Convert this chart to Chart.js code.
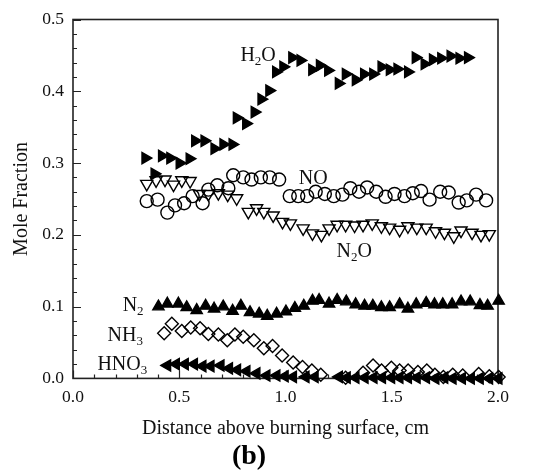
<!DOCTYPE html>
<html>
<head>
<meta charset="utf-8">
<script src="https://cdn.jsdelivr.net/npm/chart.js@4"></script>
<style>
  html, body { margin: 0; padding: 0; background: #fff; }
</style>
</head>
<body>
<canvas id="chart" width="539" height="474"></canvas>
<script>
// species profiles, distance (cm) vs mole fraction
const h2oX = [0.340, 0.383, 0.418, 0.457, 0.501, 0.548, 0.574, 0.618, 0.665, 0.707, 0.750, 0.770, 0.814, 0.854, 0.886, 0.923, 0.955, 0.989, 1.031, 1.070, 1.125, 1.161, 1.200, 1.250, 1.283, 1.330, 1.369, 1.412, 1.451, 1.490, 1.526, 1.576, 1.612, 1.654, 1.693, 1.732, 1.776, 1.818, 1.858];
const h2oY = [0.307, 0.285, 0.310, 0.307, 0.300, 0.306, 0.331, 0.331, 0.320, 0.326, 0.326, 0.363, 0.355, 0.371, 0.389, 0.401, 0.427, 0.434, 0.447, 0.443, 0.430, 0.436, 0.429, 0.411, 0.424, 0.416, 0.424, 0.424, 0.434, 0.430, 0.431, 0.427, 0.447, 0.438, 0.444, 0.446, 0.449, 0.446, 0.447];

const noX = [0.347, 0.398, 0.444, 0.480, 0.523, 0.563, 0.610, 0.637, 0.679, 0.731, 0.754, 0.801, 0.840, 0.884, 0.926, 0.970, 1.020, 1.060, 1.102, 1.142, 1.185, 1.227, 1.268, 1.305, 1.346, 1.384, 1.427, 1.471, 1.513, 1.560, 1.599, 1.638, 1.678, 1.728, 1.768, 1.815, 1.853, 1.897, 1.944];
const noY = [0.247, 0.249, 0.231, 0.241, 0.244, 0.254, 0.244, 0.263, 0.269, 0.265, 0.283, 0.280, 0.277, 0.280, 0.280, 0.277, 0.254, 0.254, 0.254, 0.260, 0.257, 0.254, 0.256, 0.265, 0.260, 0.266, 0.260, 0.253, 0.257, 0.254, 0.258, 0.261, 0.249, 0.260, 0.259, 0.245, 0.248, 0.256, 0.248];

const n2oX = [0.347, 0.391, 0.433, 0.473, 0.512, 0.551, 0.595, 0.637, 0.684, 0.728, 0.770, 0.825, 0.864, 0.898, 0.942, 0.986, 1.023, 1.083, 1.127, 1.169, 1.205, 1.243, 1.283, 1.325, 1.365, 1.408, 1.451, 1.490, 1.537, 1.576, 1.618, 1.662, 1.706, 1.748, 1.792, 1.826, 1.878, 1.920, 1.959];
const n2oY = [0.271, 0.276, 0.277, 0.270, 0.276, 0.275, 0.257, 0.257, 0.258, 0.256, 0.251, 0.232, 0.237, 0.232, 0.227, 0.218, 0.216, 0.209, 0.202, 0.200, 0.209, 0.214, 0.214, 0.213, 0.214, 0.216, 0.212, 0.210, 0.207, 0.212, 0.210, 0.210, 0.205, 0.203, 0.198, 0.206, 0.203, 0.200, 0.201];

const n2X = [0.402, 0.444, 0.496, 0.535, 0.582, 0.624, 0.664, 0.707, 0.751, 0.790, 0.833, 0.876, 0.914, 0.958, 1.002, 1.044, 1.086, 1.127, 1.158, 1.205, 1.243, 1.286, 1.330, 1.372, 1.411, 1.451, 1.490, 1.537, 1.576, 1.615, 1.662, 1.701, 1.740, 1.784, 1.826, 1.869, 1.915, 1.951, 2.003];
const n2Y = [0.100, 0.104, 0.104, 0.099, 0.095, 0.101, 0.097, 0.100, 0.094, 0.101, 0.092, 0.090, 0.087, 0.090, 0.093, 0.098, 0.101, 0.108, 0.109, 0.104, 0.109, 0.107, 0.103, 0.101, 0.101, 0.099, 0.099, 0.103, 0.097, 0.103, 0.105, 0.103, 0.103, 0.103, 0.107, 0.107, 0.102, 0.101, 0.108];

const nh3X = [0.429, 0.465, 0.512, 0.554, 0.598, 0.637, 0.684, 0.726, 0.762, 0.801, 0.851, 0.898, 0.939, 0.984, 1.036, 1.080, 1.124, 1.166, 1.283, 1.365, 1.412, 1.452, 1.498, 1.537, 1.577, 1.623, 1.665, 1.703, 1.743, 1.787, 1.834, 1.909, 1.959, 2.003, 2.045];
const nh3Y = [0.063, 0.076, 0.066, 0.071, 0.070, 0.062, 0.061, 0.053, 0.061, 0.058, 0.053, 0.042, 0.045, 0.032, 0.022, 0.016, 0.011, 0.005, 0.001, 0.008, 0.018, 0.011, 0.015, 0.011, 0.011, 0.009, 0.011, 0.005, 0.002, 0.005, 0.004, 0.006, 0.003, 0.002, 0.000];

const hno3X = [0.444, 0.485, 0.527, 0.570, 0.610, 0.648, 0.695, 0.735, 0.773, 0.817, 0.864, 0.911, 0.958, 0.997, 1.036, 1.095, 1.138, 1.252, 1.289, 1.330, 1.373, 1.415, 1.455, 1.498, 1.537, 1.577, 1.618, 1.662, 1.706, 1.748, 1.787, 1.831, 1.873, 1.915, 1.959, 2.003];
const hno3Y = [0.018, 0.020, 0.020, 0.020, 0.017, 0.017, 0.018, 0.014, 0.012, 0.010, 0.007, 0.004, 0.004, 0.003, 0.002, 0.002, 0.002, 0.002, 0.001, 0.001, 0.001, 0.001, 0.001, 0.001, 0.001, 0.001, 0.001, 0.001, 0.000, 0.001, 0.000, 0.000, 0.000, 0.000, 0.000, 0.000];

const xTicks = [0, 0.5, 1.0, 1.5, 2.0];
const yTicks = [0, 0.1, 0.2, 0.3, 0.4, 0.5];

// in-plot species labels: [text, subscript?]
const speciesLabels = [
  { parts: [['H', false], ['2', true], ['O', false]], x: 0.871, y: 0.452 },
  { parts: [['NO', false]], x: 1.130, y: 0.281 },
  { parts: [['N', false], ['2', true], ['O', false]], x: 1.323, y: 0.179 },
  { parts: [['N', false], ['2', true]], x: 0.283, y: 0.103 },
  { parts: [['NH', false], ['3', true]], x: 0.246, y: 0.062 },
  { parts: [['HNO', false], ['3', true]], x: 0.232, y: 0.021 },
];

const SERIF = '"Liberation Serif", "Times New Roman", serif';
const INK = '#111';

function pts(xs, ys) {
  return xs.map((x, i) => ({ x: x, y: ys[i] }));
}

function series(label, xs, ys, style, rotation, filled, r) {
  return {
    label: label,
    data: pts(xs, ys),
    showLine: false,
    pointStyle: style,
    pointRotation: rotation,
    pointRadius: r,
    pointHoverRadius: r,
    pointBorderWidth: 1.4,
    pointBorderColor: '#000',
    pointBackgroundColor: filled ? '#000' : 'rgba(0,0,0,0)',
    clip: false,
  };
}

const frame = {
  id: 'frame',
  beforeDatasetsDraw(chart) {
    const { ctx, chartArea: a, scales } = chart;
    ctx.save();
    ctx.strokeStyle = '#222';
    ctx.lineWidth = 1.6;
    ctx.strokeRect(a.left, a.top, a.right - a.left, a.bottom - a.top);
    ctx.lineWidth = 1.2;
    ctx.beginPath();
    for (let i = 0; i <= 25; i++) {
      const py = Math.round(scales.y.getPixelForValue(i * 0.02)) + 0.5;
      const len = i % 5 === 0 ? 8 : 4;
      ctx.moveTo(a.left, py);
      ctx.lineTo(a.left + len, py);
    }
    for (let i = 0; i <= 20; i++) {
      const px = Math.round(scales.x.getPixelForValue(i * 0.1)) + 0.5;
      const len = i % 5 === 0 ? 8 : 4;
      ctx.moveTo(px, a.bottom);
      ctx.lineTo(px, a.bottom - len);
    }
    ctx.stroke();
    ctx.restore();
  },
  afterDraw(chart) {
    const { ctx, scales } = chart;
    ctx.save();
    ctx.fillStyle = INK;
    ctx.textBaseline = 'alphabetic';
    speciesLabels.forEach(lab => {
      let w = 0;
      lab.parts.forEach(p => {
        ctx.font = (p[1] ? 13 : 20) + 'px ' + SERIF;
        w += ctx.measureText(p[0]).width;
      });
      let px = scales.x.getPixelForValue(lab.x) - w / 2;
      const base = scales.y.getPixelForValue(lab.y) + 7;
      lab.parts.forEach(p => {
        ctx.font = (p[1] ? 13 : 20) + 'px ' + SERIF;
        ctx.fillText(p[0], px, p[1] ? base + 4 : base);
        px += ctx.measureText(p[0]).width;
      });
    });
    ctx.restore();
  }
};

new Chart(document.getElementById('chart'), {
  type: 'scatter',
  data: {
    datasets: [
      series('H2O', h2oX, h2oY, 'triangle', 90, true, 6.5),
      series('NO', noX, noY, 'circle', 0, false, 6.5),
      series('N2O', n2oX, n2oY, 'triangle', 180, false, 7),
      series('N2', n2X, n2Y, 'triangle', 0, true, 6.5),
      series('NH3', nh3X, nh3Y, 'rectRot', 0, false, 6.5),
      series('HNO3', hno3X, hno3Y, 'triangle', 270, true, 6.5),
    ]
  },
  options: {
    responsive: false,
    animation: false,
    layout: { padding: { left: 0, right: 41, top: 15, bottom: 0 } },
    plugins: {
      legend: { display: false },
      tooltip: { enabled: false },
      title: {
        display: true,
        position: 'bottom',
        text: '(b)',
        color: '#000',
        font: { family: SERIF, size: 28, weight: 'bold' },
        padding: { top: 0, bottom: 0 }
      }
    },
    scales: {
      x: {
        type: 'linear',
        min: 0,
        max: 2,
        afterFit: s => { s.height = 62; },
        afterBuildTicks: s => { s.ticks = xTicks.map(v => ({ value: v })); },
        grid: { display: false, drawTicks: false },
        border: { display: false },
        ticks: {
          color: INK,
          padding: 9,
          font: { family: SERIF, size: 17.5 },
          callback: v => v.toFixed(1)
        },
        title: {
          display: true,
          text: 'Distance above burning surface, cm',
          color: INK,
          font: { family: SERIF, size: 20 },
          padding: { top: 0, bottom: 0 }
        }
      },
      y: {
        type: 'linear',
        min: 0,
        max: 0.5,
        afterFit: s => { s.width = 73; },
        afterBuildTicks: s => { s.ticks = yTicks.map(v => ({ value: v })); },
        grid: { display: false, drawTicks: false },
        border: { display: false },
        ticks: {
          color: INK,
          padding: 9,
          font: { family: SERIF, size: 17.5 },
          callback: v => v.toFixed(1)
        },
        title: {
          display: true,
          text: 'Mole Fraction',
          color: INK,
          font: { family: SERIF, size: 20 },
          padding: { top: 10, bottom: 0 }
        }
      }
    }
  },
  plugins: [frame]
});
</script>
</body>
</html>
